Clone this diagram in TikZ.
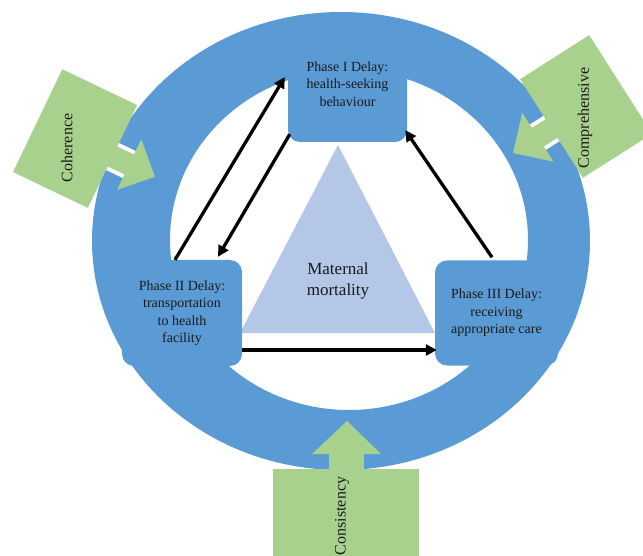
\documentclass[tikz,border=0pt]{standalone}
\usepackage{fontspec}
\setmainfont{Liberation Serif}
\usetikzlibrary{arrows.meta,calc}
\definecolor{ringblue}{HTML}{5B9BD5}
\definecolor{leafgreen}{HTML}{A9D18E}
\definecolor{triblue}{HTML}{B4C7E7}
\definecolor{inkc}{HTML}{1A1A1A}
\begin{document}
\begin{tikzpicture}[x=1pt,y=-1pt,
  lbl/.style={font=\fontsize{14}{17.5}\selectfont, text=inkc, align=center, inner sep=0pt},
  biglbl/.style={lbl, font=\fontsize{16}{20}\selectfont},
  phasebox/.style={fill=ringblue, rounded corners=12pt, inner sep=0pt, lbl},
  arr/.style={line width=3.3pt, -{Triangle[length=11pt,width=11pt]}},
  leaf/.style={fill=leafgreen},
]
\useasboundingbox (0,0) rectangle (643,556);
\clip (0,0) rectangle (643,556);

% ring
\fill[ringblue, even odd rule] (341,241) ellipse [x radius=249, y radius=229]
  (349,240) ellipse [x radius=179, y radius=170];

% Coherence arrow
\begin{scope}[shift={(112.5,156.5)}, rotate=-25.6]
  \fill[white] (-2,-15) rectangle (18.6,15);
  \fill[leaf] (-83,-57) rectangle (0,57);
  \fill[leaf] (-1,-11) rectangle (18.8,11);
  \fill[leaf] (18.6,-28) -- (47,0) -- (18.6,28) -- cycle;
\end{scope}

% Comprehensive arrow
\begin{scope}[shift={(551.5,128.5)}, rotate=212.5]
  \fill[white] (-2,-15) rectangle (16.2,15);
  \fill[leaf] (-82,-58.5) rectangle (0,58.5);
  \fill[leaf] (-1,-11) rectangle (16.4,11);
  \fill[leaf] (16.2,-29) -- (45.6,0) -- (16.2,29) -- cycle;
\end{scope}

% Consistency arrow
\fill[leaf] (273,469) rectangle (419,560);
\fill[leaf] (329,453) rectangle (364,470);
\fill[leaf] (312,454) -- (347,421) -- (381,454) -- cycle;

% triangle
\fill[triblue] (338,145) -- (240,333) -- (435,333) -- cycle;
\node[lbl, font=\fontsize{17}{21}\selectfont] (mm) at (338,281) {Maternal\\mortality};

% phase boxes
\node[phasebox, minimum width=119pt, minimum height=116pt] (p1) at (347.5,84)
  {Phase I Delay:\\health-seeking\\behaviour};
\node[phasebox, minimum width=120pt, minimum height=106pt] (p2) at (182,313)
  {Phase II Delay:\\transportation\\to health\\facility};
\node[phasebox, minimum width=123pt, minimum height=105pt] (p3) at (496.5,313)
  {Phase III Delay:\\receiving\\appropriate care};

% connectors
\draw[arr] ($(p2.north)+(-7,0)$) -- ($(p1.west)+(-3,-7)$);
\draw[arr] ($(p1.south west)+(2,-8)$) -- ($(p2.north)+(36,-3)$);
\draw[arr] ($(p3.north)+(-4.5,-3)$) -- ($(p1.south east)+(-2,-12)$);
\draw[arr] ($(p2.east)+(0,37)$) -- ($(p3.west)+(2,37)$);

% labels of green arrows
\node[biglbl, rotate=90] (coh) at (67,148) {Coherence};
\node[biglbl, rotate=90] (comp) at (585,118) {Comprehensive};
\node[biglbl, rotate=90] (cons) at (342,516) {Consistency};
\end{tikzpicture}
\end{document}
